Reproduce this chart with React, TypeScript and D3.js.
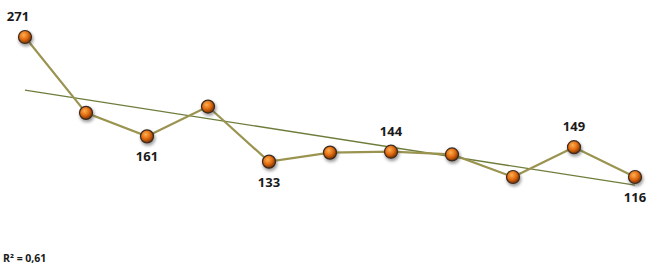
import React, { useEffect, useRef } from "react";
import * as d3 from "d3";

// values, one per point
const values = [271, 187, 161, 194, 133, 143, 144, 141, 116, 149, 116];
// which points carry a label, and whether it sits above or below
const labelled = [0, 2, 4, 6, 9, 10];
const labelAbove = [true, false, false, true, true, false];
const r2Text = "R² = 0,61";

const App: React.FC = () => {
  const svgRef = useRef<SVGSVGElement | null>(null);

  useEffect(() => {
    if (!svgRef.current) return;
    const svg = d3.select(svgRef.current);
    svg.selectAll("*").remove();

    const width = 658;
    const height = 267;

    const idx = values.map((_, i) => i);
    const x = d3.scalePoint<number>().domain(idx).range([25, 635]);
    const y = d3.scaleLinear().domain([116, 271]).range([177, 37]);

    const defs = svg.append("defs");
    const grad = defs
      .append("radialGradient")
      .attr("id", "ball")
      .attr("cx", "40%")
      .attr("cy", "35%")
      .attr("r", "65%");
    grad.append("stop").attr("offset", "0%").attr("stop-color", "#ffb050");
    grad.append("stop").attr("offset", "55%").attr("stop-color", "#e06a10");
    grad.append("stop").attr("offset", "100%").attr("stop-color", "#7a3000");

    const blur = defs.append("filter").attr("id", "shadow").attr("x", "-50%").attr("y", "-50%").attr("width", "200%").attr("height", "200%");
    blur.append("feGaussianBlur").attr("stdDeviation", 1.5);

    // trend line from least squares
    const n = values.length;
    const mx = d3.mean(idx)!;
    const my = d3.mean(values)!;
    const sxy = d3.sum(idx, (i) => (i - mx) * (values[i] - my));
    const sxx = d3.sum(idx, (i) => (i - mx) * (i - mx));
    const slope = sxy / sxx;
    const icpt = my - slope * mx;

    svg
      .append("line")
      .attr("x1", x(0)!)
      .attr("y1", y(icpt))
      .attr("x2", x(n - 1)!)
      .attr("y2", y(icpt + slope * (n - 1)))
      .attr("stroke", "#6e7d3c")
      .attr("stroke-width", 1.4);

    const line = d3
      .line<number>()
      .x((d, i) => x(i)!)
      .y((d) => y(d));

    svg
      .append("path")
      .datum(values)
      .attr("d", line)
      .attr("fill", "none")
      .attr("stroke", "#9a9450")
      .attr("stroke-width", 2.2);

    // shadows under markers
    svg
      .selectAll("circle.shadow")
      .data(values)
      .enter()
      .append("circle")
      .attr("class", "shadow")
      .attr("cx", (d, i) => x(i)! + 1)
      .attr("cy", (d) => y(d) + 2)
      .attr("r", 7.5)
      .attr("fill", "#444")
      .attr("opacity", 0.5)
      .attr("filter", "url(#shadow)");

    svg
      .selectAll("circle.pt")
      .data(values)
      .enter()
      .append("circle")
      .attr("class", "pt")
      .attr("cx", (d, i) => x(i)!)
      .attr("cy", (d) => y(d))
      .attr("r", 6.5)
      .attr("fill", "url(#ball)")
      .attr("stroke", "#3a2a20")
      .attr("stroke-width", 1.2);

    svg
      .selectAll("text.lbl")
      .data(labelled)
      .enter()
      .append("text")
      .attr("class", "lbl")
      .attr("x", (i) => (i === 0 ? x(i)! - 7 : x(i)!))
      .attr("y", (i, k) => (labelAbove[k] ? y(values[i]) - 16 : y(values[i]) + 25))
      .attr("text-anchor", "middle")
      .attr("font-family", "'Open Sans', 'Liberation Sans', sans-serif")
      .attr("font-weight", "bold")
      .attr("font-size", 13)
      .attr("fill", "#1a1a1a")
      .text((i) => String(values[i]));

    svg
      .append("text")
      .attr("x", 3)
      .attr("y", height - 5)
      .attr("font-family", "'Open Sans', 'Liberation Sans', sans-serif")
      .attr("font-weight", "bold")
      .attr("font-size", 10.5)
      .attr("fill", "#1a1a1a")
      .text(r2Text);

    svg.attr("width", width).attr("height", height);
  }, []);

  return (
    <svg
      ref={svgRef}
      width={658}
      height={267}
      style={{ position: "absolute", left: 0, top: 0, background: "#fff" }}
    ></svg>
  );
};

export default App;
